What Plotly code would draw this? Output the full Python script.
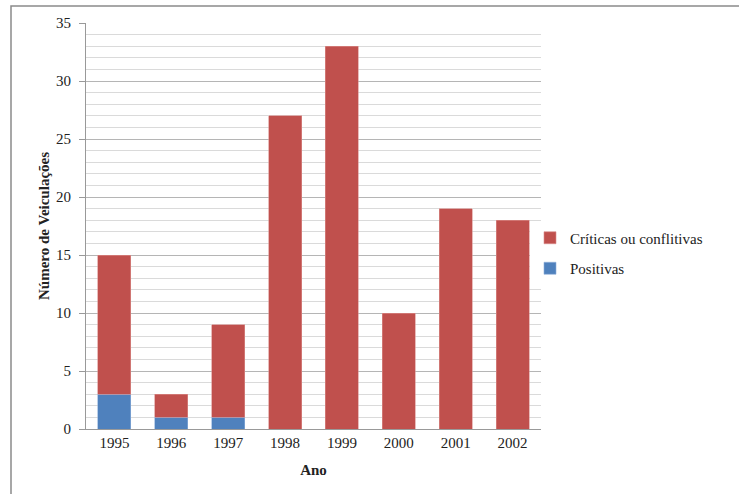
import plotly.graph_objects as go

anos = ["1995", "1996", "1997", "1998", "1999", "2000", "2001", "2002"]
positivas = [3, 1, 1, 0, 0, 0, 0, 0]
criticas = [12, 2, 8, 27, 33, 10, 19, 18]

L, R, T, B = 86, 198, 23, 65
W, H = 739, 494
pw = W - L - R
ph = H - T - B

fig = go.Figure()
fig.add_trace(go.Bar(x=anos, y=positivas, name="Positivas", legendrank=2, legendgroup="p",
                     marker=dict(color="#4F81BD", line=dict(color="#8FB0DA", width=0.6))))
fig.add_trace(go.Bar(x=anos, y=criticas, name="Críticas ou conflitivas", legendrank=1, legendgroup="c",
                     marker=dict(color="#C0504D", line=dict(color="#DA8F8D", width=0.6))))

fam = "Liberation Serif, Times New Roman, serif"
font = dict(family=fam, size=15, color="#222")

fig.update_layout(
    width=W, height=H,
    margin=dict(l=L, r=R, t=T, b=B),
    barmode="stack",
    bargap=0.42,
    plot_bgcolor="white",
    paper_bgcolor="white",
    font=font,
    legend=dict(x=(530 - L) / pw, y=(429 - 253) / ph, xanchor="left", yanchor="middle",
                traceorder="grouped", font=dict(family=fam, size=15, color="#222"),
                itemwidth=30, tracegroupgap=8),
    xaxis=dict(
        automargin=False,
        showline=True, linecolor="#999", linewidth=1,
        ticks="", showgrid=False,
        title=dict(text="<b>Ano</b>", font=dict(family=fam, size=15, color="#222"), standoff=14),
        tickfont=font,
    ),
    yaxis=dict(
        automargin=False,
        range=[0, 35], dtick=5, tick0=0,
        showline=True, linecolor="#999", linewidth=1,
        ticks="outside", ticklen=6, tickcolor="#999",
        ticklabelstandoff=5,
        showgrid=True, gridcolor="#b5b5b5", gridwidth=1,
        minor=dict(dtick=1, showgrid=True, gridcolor="#dadada", gridwidth=1, ticks=""),
        zeroline=False,
        title=dict(text="<b>Número de Veiculações</b>", font=dict(family=fam, size=15, color="#222"), standoff=2),
        tickfont=font,
    ),
)

fig.add_shape(type="rect", xref="paper", yref="paper",
              x0=(11 - L) / pw, x1=(760 - L) / pw,
              y0=(429 - 530) / ph, y1=(429 - 6) / ph,
              line=dict(color="#8a8a8a", width=1.5), fillcolor="rgba(0,0,0,0)", layer="below")

fig.write_html("out.html", config={"displayModeBar": False},
               post_script="document.body.style.margin='0px';")
